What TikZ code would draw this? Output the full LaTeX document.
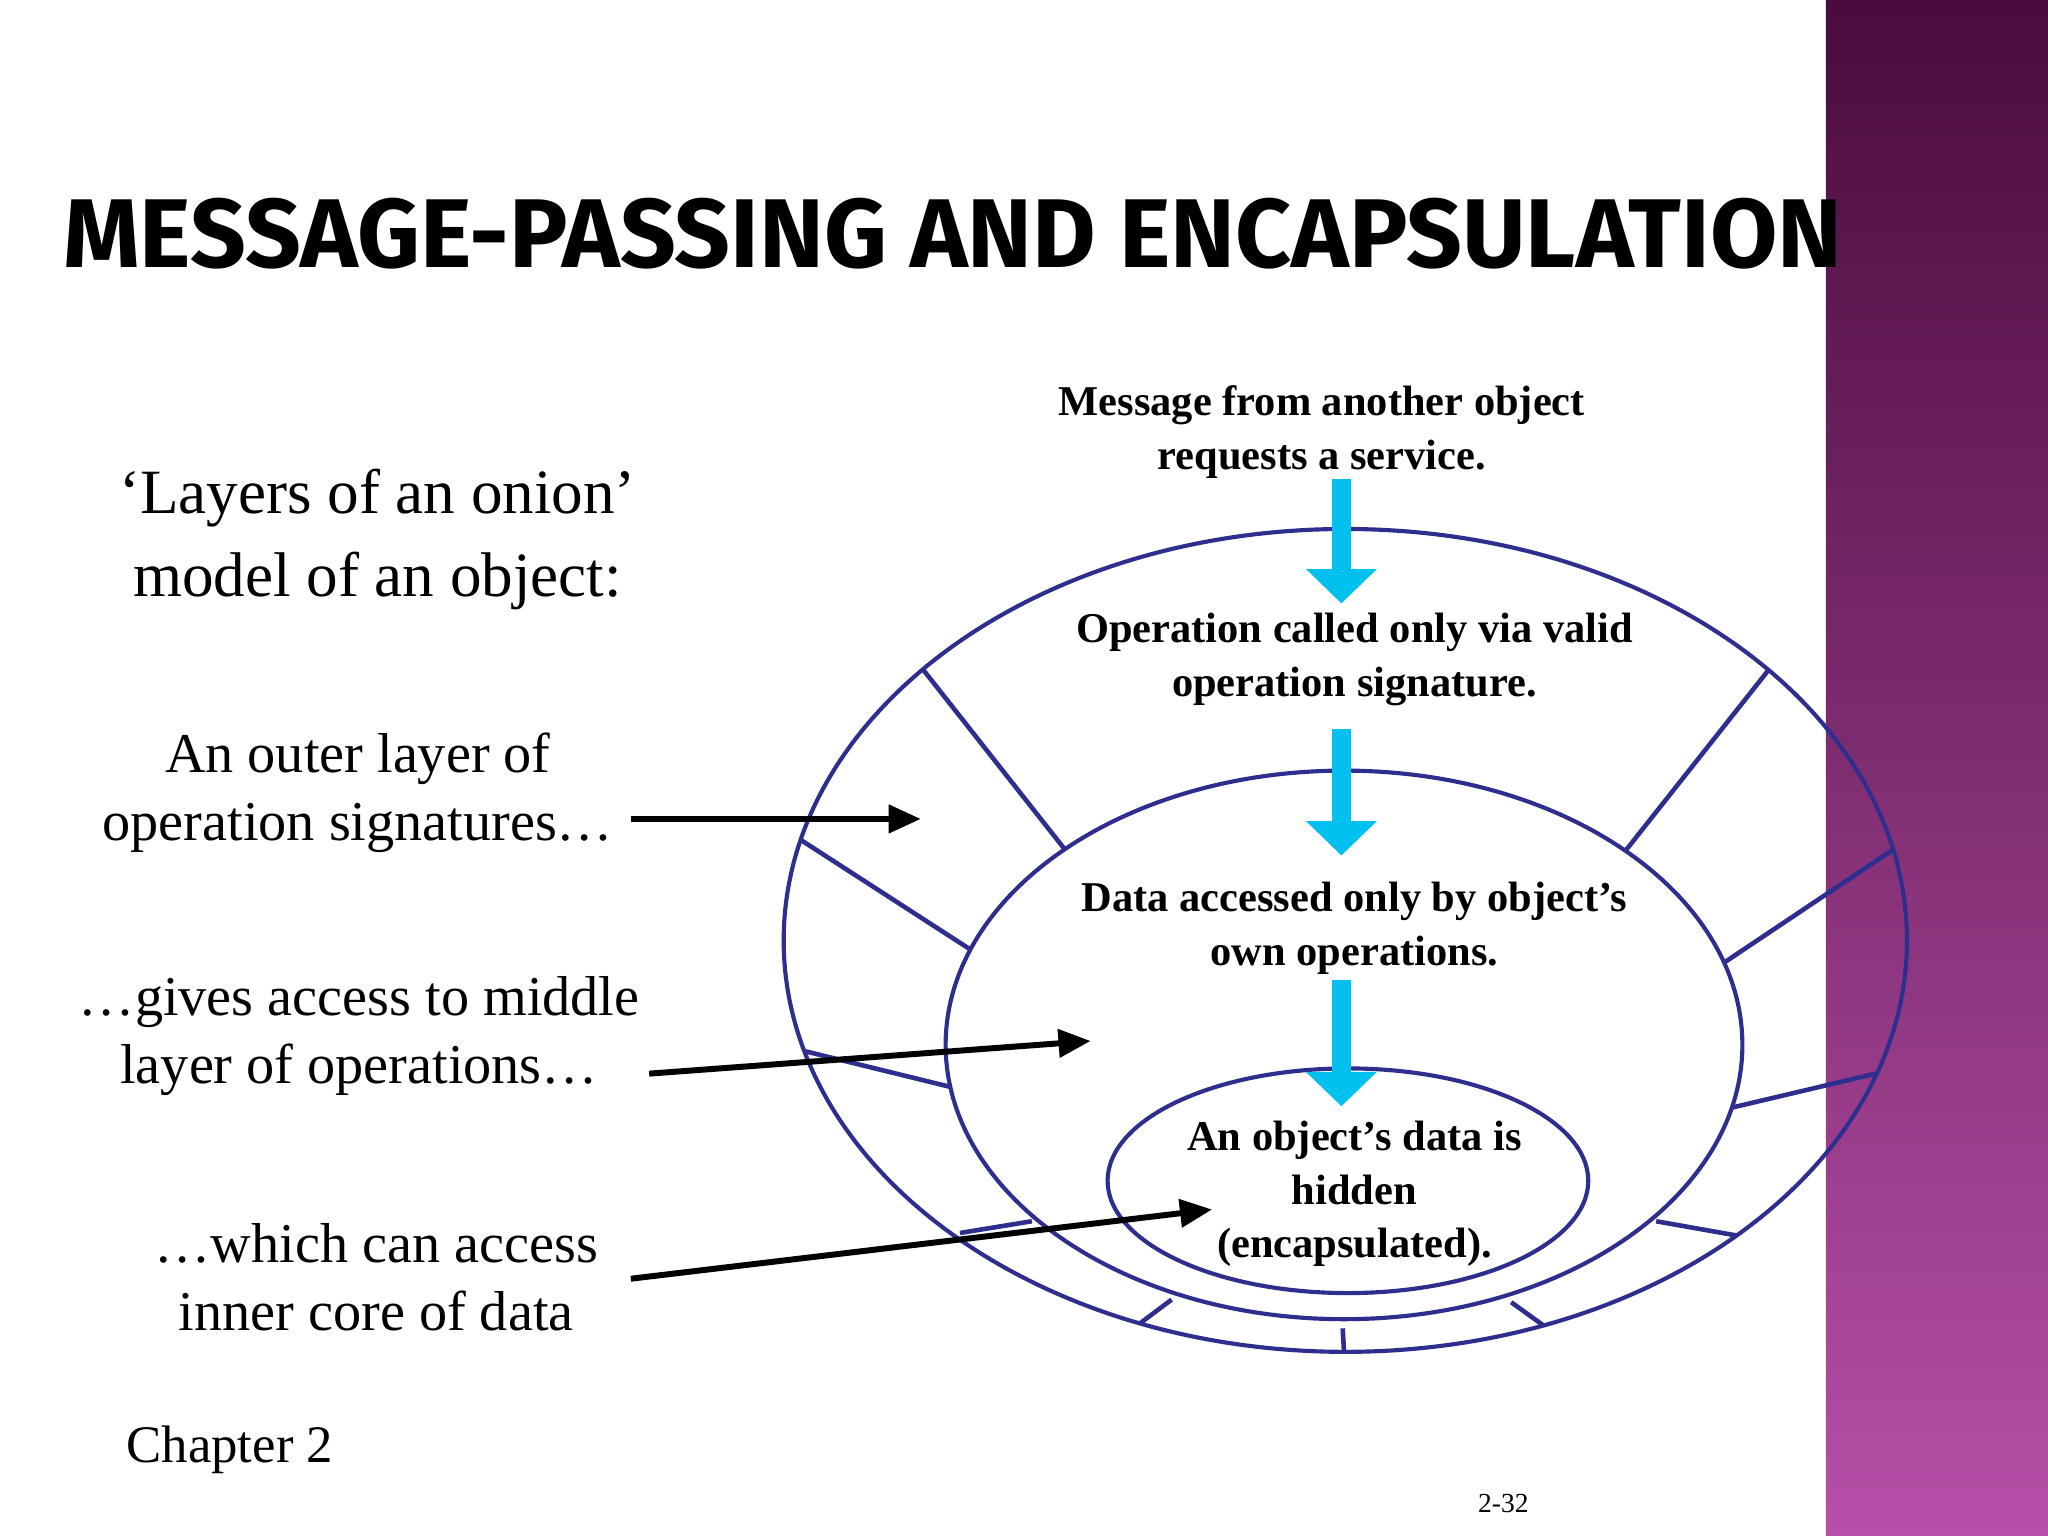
\documentclass[tikz,border=0pt]{standalone}
\usepackage{fontspec}
\setmainfont{Liberation Serif}
\newfontfamily\titlefont{Fira Sans}
\usetikzlibrary{arrows.meta}
\begin{document}
\begin{tikzpicture}[x=0.02cm,y=-0.02cm,
  ring/.style={draw=navy,line width=1.8pt},
  spoke/.style={draw=navy,line width=2pt},
  blk/.style={draw=black,line width=2.6pt,-{Triangle[length=14pt,width=12pt]}},
  cyanarrow/.style={draw=cyanb,line width=8pt,-{Triangle[length=15pt,width=30pt]}},
  inner/.style={font=\fontsize{18.5}{23.5}\selectfont\bfseries,align=center},
  side/.style={font=\fontsize{24.5}{29.5}\selectfont,align=center}]
\definecolor{navy}{HTML}{2E2E8F}
\definecolor{cyanb}{HTML}{00C0F0}
\definecolor{ptop}{HTML}{4A0C3C}
\definecolor{pbot}{HTML}{B64FA8}
\useasboundingbox (0,0) rectangle (1568,1176);
\fill[white] (0,0) rectangle (1568,1176);
\shade[top color=ptop,bottom color=pbot] (1398,0) rectangle (1568,1176);
\node[anchor=base west,inner sep=0] (title) at (48,205)
  {\resizebox{1362\dimexpr0.02cm\relax}{!}{\titlefont\bfseries MESSAGE-PASSING AND ENCAPSULATION}};
% ellipses
\draw[ring] (1030,720) ellipse [x radius=430,y radius=315];
\draw[ring] (1029,800) ellipse [x radius=305,y radius=210];
\draw[ring] (1032,904) ellipse [x radius=184,y radius=86];
% spokes
\foreach \a/\b/\c/\d in {707/513/815/650, 613/643/743/727, 617/805/727/832, 735/944/790/935,
  873/1013/897/995, 1028/1017/1029/1035, 1157/997/1182/1015, 1268/935/1330/946,
  1326/848/1436/822, 1320/737/1450/650, 1244/652/1354/513}
  \draw[spoke] (\a,\b) -- (\c,\d);
% cyan arrows
\coordinate (c1) at (1027,367); \coordinate (c2) at (1027,462);
\coordinate (c3) at (1027,558); \coordinate (c4) at (1027,655);
\coordinate (c5) at (1027,750); \coordinate (c6) at (1027,847);
\draw[cyanarrow] (c1) -- (c2);
\draw[cyanarrow] (c3) -- (c4);
\draw[cyanarrow] (c5) -- (c6);
% texts
\node[inner] (m1) at (1012,331) {Message from another object\\requests a service.};
\node[inner] (m2) at (1037,505) {Operation called only via valid\\operation signature.};
\node[inner] (m3) at (1037,711) {Data accessed only by object’s\\own operations.};
\node[inner] (m4) at (1037,914) {An object’s data is\\hidden\\(encapsulated).};
\node[font=\fontsize{27.5}{36}\selectfont,align=center] (lay) at (289,413) {‘Layers of an onion’\\model of an object:};
\node[side] (s1) at (274,607) {An outer layer of\\operation signatures…};
\node[side] (s2) at (275,793) {…gives access to middle\\layer of operations…};
\node[side] (s3) at (288,978) {…which can access\\inner core of data};
\node[font=\fontsize{23}{27}\selectfont] (ch) at (176,1110) {Chapter 2};
\node[font=\fontsize{12}{14}\selectfont] (pg) at (1151,1151) {2-32};
% black arrows
\coordinate (a1) at (483,627); \coordinate (b1) at (705,627);
\coordinate (a2) at (497,822); \coordinate (b2) at (835,797);
\coordinate (a3) at (483,979); \coordinate (b3) at (928,926);
\draw[blk] (a1) -- (b1);
\draw[blk] (a2) -- (b2);
\draw[blk] (a3) -- (b3);
\end{tikzpicture}
\end{document}
